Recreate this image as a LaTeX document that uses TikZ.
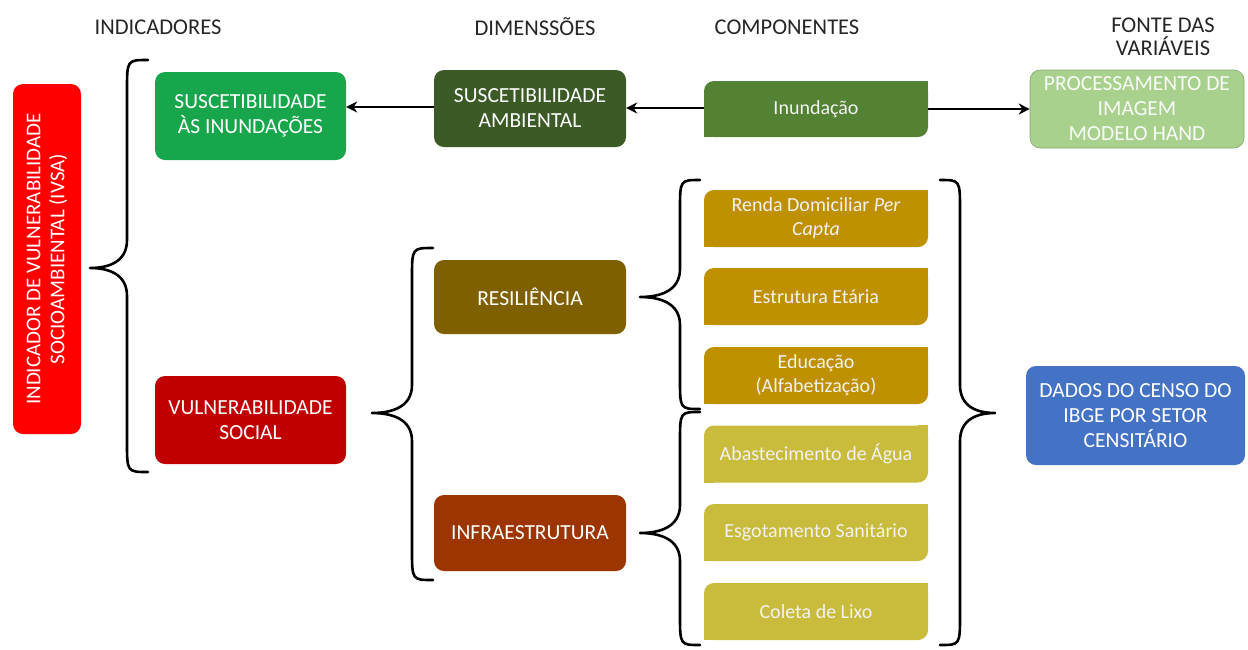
\documentclass[tikz,border=0pt]{standalone}
\usepackage{fontspec}
\setmainfont{Carlito}
\usetikzlibrary{arrows.meta}
\definecolor{cRed}{HTML}{FF0000}
\definecolor{cSI}{HTML}{17A64B}
\definecolor{cVS}{HTML}{C00000}
\definecolor{cSA}{HTML}{3B5A25}
\definecolor{cInu}{HTML}{548235}
\definecolor{cProc}{HTML}{A9D18E}
\definecolor{cRes}{HTML}{7F6000}
\definecolor{cInf}{HTML}{9C3500}
\definecolor{cGold}{HTML}{BF9000}
\definecolor{cOlive}{HTML}{C9BB3B}
\definecolor{cBlue}{HTML}{4472C4}
\newcommand{\mybrace}[6]{% xe, yt, yb, xv, xt, ym
  \draw[bracestyle] (#1,#2) .. controls (#4,#2) .. (#4,{#2+30})
    -- (#4,{#6-28}) .. controls (#4,{#6-6}) and ({(#4+#5)/2},#6) .. (#5,#6)
    .. controls ({(#4+#5)/2},#6) and (#4,{#6+6}) .. (#4,{#6+28})
    -- (#4,{#3-30}) .. controls (#4,#3) .. (#1,#3);}
\newcommand{\diagsq}[2]{% node, colour: square off NE and SW corners
  \fill[#2] (#1.north east) rectangle ++(-10,10);
  \fill[#2] (#1.south west) rectangle ++(10,-10);}
\begin{document}
\begin{tikzpicture}[x=1pt,y=-1pt,
  box/.style={rounded corners=10pt, minimum width=#1, inner sep=0pt, align=center,
     text=white, font=\fontsize{21.5}{25}\selectfont},
  comp/.style={rounded corners=10pt, minimum width=224, minimum height=57, inner sep=0pt,
     align=center, text=white!95!black, font=\fontsize{20}{24}\selectfont},
  title/.style={align=center, font=\fontsize{22.5}{23}\selectfont, text=black!85},
  arr/.style={line width=2.6pt, -{Stealth[length=11pt,width=11pt]}},
  bracestyle/.style={line width=2.6pt, line cap=round, line join=round}]
\useasboundingbox[fill=white] (0,0) rectangle (1248,649);

% titles
\node[title] (tInd) at (158,27) {INDICADORES};
\node[title] (tDim) at (535,27) {DIMENSSÕES};
\node[title] (tCom) at (787,27) {COMPONENTES};
\node[title] (tFon) at (1163,37) {FONTE DAS\\VARIÁVEIS};

% main indicator
\node[box=350, minimum height=68, fill=cRed, rotate=90, font=\fontsize{21}{24}\selectfont] (ivsa) at (47,259)
  {INDICADOR DE VULNERABILIDADE\\SOCIOAMBIENTAL (IVSA)};

% indicators
\node[box=191, minimum height=88, fill=cSI] (si) at (250.5,116) {SUSCETIBILIDADE\\ÀS INUNDAÇÕES};
\node[box=191, minimum height=88, fill=cVS] (vs) at (250.5,420) {VULNERABILIDADE\\SOCIAL};

% dimensions
\node[box=192, minimum height=77, fill=cSA] (sa) at (530,108.5) {SUSCETIBILIDADE\\AMBIENTAL};
\node[box=192, minimum height=74, fill=cRes] (res) at (530,297) {RESILIÊNCIA};
\node[box=192, minimum height=76, fill=cInf] (inf) at (530,533) {INFRAESTRUTURA};

% components
\node[comp, minimum height=56, fill=cInu] (inu) at (816,109) {Inundação};
\node[comp, fill=cGold] (renda) at (816,218.5) {Renda Domiciliar \textit{Per}\\\textit{Capta}};
\node[comp, fill=cGold] (estr) at (816,296.5) {Estrutura Etária};
\node[comp, fill=cGold] (edu) at (816,375.5) {Educação\\(Alfabetização)};
\node[comp, fill=cOlive] (agua) at (816,454) {Abastecimento de Água};
\node[comp, fill=cOlive] (esg) at (816,532.5) {Esgotamento Sanitário};
\node[comp, fill=cOlive] (lixo) at (816,611.5) {Coleta de Lixo};
\diagsq{inu}{cInu}
\diagsq{renda}{cGold}
\diagsq{estr}{cGold}
\diagsq{edu}{cGold}
\diagsq{agua}{cOlive}
\diagsq{esg}{cOlive}
\diagsq{lixo}{cOlive}

% sources
\node[box=214, minimum height=78, fill=cProc, draw=cProc!80!black, line width=0.6pt, text=white!92!cProc] (proc) at (1137,109)
  {PROCESSAMENTO DE\\IMAGEM\\MODELO HAND};
\node[box=219, minimum height=99, fill=cBlue] (ibge) at (1135.5,415.5)
  {DADOS DO CENSO DO\\IBGE POR SETOR\\CENSITÁRIO};

% arrows
\coordinate (inuW) at ([yshift=1pt]inu.west);
\draw[arr] (inuW) -- (inuW -| sa.east);
\coordinate (saW) at ([yshift=1.5pt]sa.west);
\draw[arr] (saW) -- (saW -| si.east);
\draw[arr] (inu.east) -- (inu.east -| proc.west);

% braces
\mybrace{148}{60}{472}{127}{90}{268}
\mybrace{433}{248}{580}{412}{372}{413}
\mybrace{700}{180}{409}{680}{640}{297}
\mybrace{700}{412}{645}{680}{640}{533}
\mybrace{940}{180}{645}{960}{995}{413}
\end{tikzpicture}
\end{document}
